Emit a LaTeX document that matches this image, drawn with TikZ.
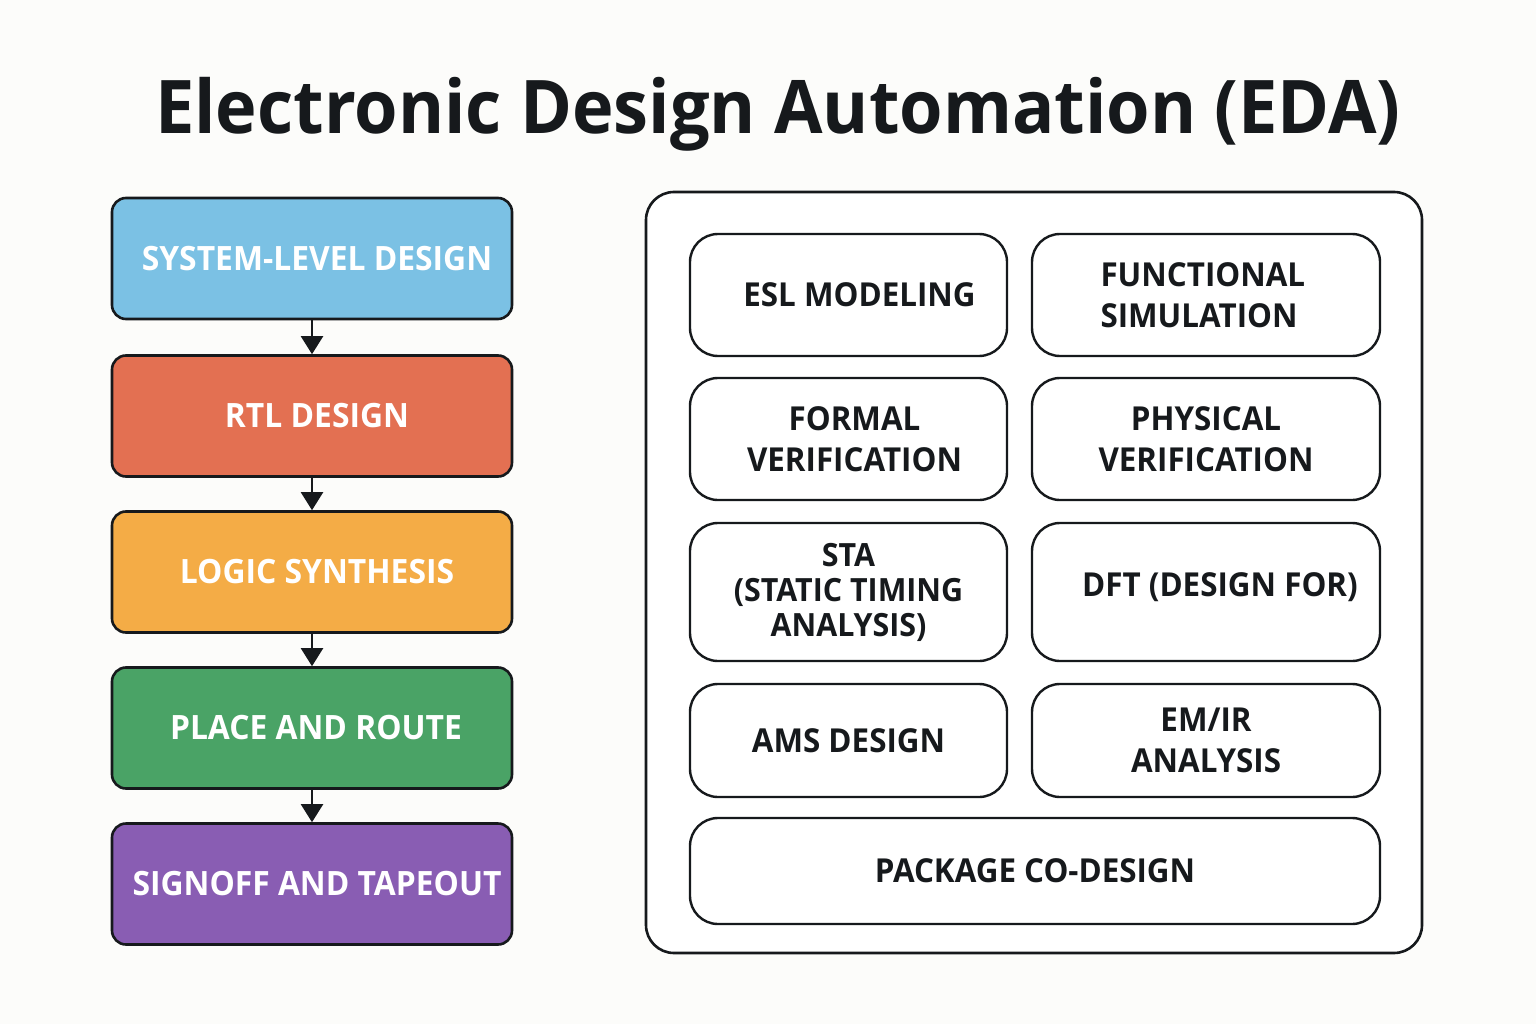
\documentclass[tikz,border=0pt]{standalone}
\usepackage{fontspec}
\setmainfont{Open Sans}[FakeStretch=0.95]
\usetikzlibrary{arrows.meta}

\definecolor{pagebg}{HTML}{FCFCFA}
\definecolor{inkblack}{HTML}{16191C}
\definecolor{sysblue}{HTML}{7BC1E4}
\definecolor{rtlred}{HTML}{E37052}
\definecolor{logicorange}{HTML}{F4AC46}
\definecolor{prgreen}{HTML}{4AA366}
\definecolor{signpurple}{HTML}{895DB3}

\begin{document}
\begin{tikzpicture}%
	[x=1pt, y=-1pt,
	flowbox/.style={draw=inkblack, line width=2.6pt, rounded corners=14pt,
		minimum width=400pt, minimum height=121pt, inner sep=0pt,
		text=white, font=\fontsize{33.5}{40}\selectfont\bfseries},
	toolbox/.style={draw=inkblack, line width=2.4pt, rounded corners=28pt,
		fill=white, inner sep=0pt, align=center, text=inkblack,
		font=\fontsize{33}{41}\selectfont\bfseries},
	frame/.style={draw=inkblack, line width=2.6pt, rounded corners=28pt,
		fill=white, minimum width=776pt, minimum height=761pt},
	flowarrow/.style={-{Triangle[width=22pt,length=18pt]}, line width=2.2pt, color=inkblack}]
%
\fill[pagebg] (0,0) rectangle (1536,1024);
%%
%% Title
%%
\node[text=inkblack, font=\fontsize{74}{80}\selectfont\bfseries] (title) at (778,114) {Electronic Design Automation (EDA)};
%%
%% Design flow on the left
%%
\node[flowbox, fill=sysblue] (system) at (312,258.5) {\hspace*{10pt}SYSTEM-LEVEL DESIGN};
\node[flowbox, fill=rtlred] (rtl) at (312,416) {\hspace*{10pt}RTL DESIGN};
\node[flowbox, fill=logicorange] (logic) at (312,572) {\hspace*{10pt}LOGIC SYNTHESIS};
\node[flowbox, fill=prgreen] (pnr) at (312,728) {\hspace*{8pt}PLACE AND ROUTE};
\node[flowbox, fill=signpurple] (signoff) at (312,884) {\hspace*{10pt}SIGNOFF AND TAPEOUT};

\draw[flowarrow] (system) -- (rtl);
\draw[flowarrow] (rtl) -- (logic);
\draw[flowarrow] (logic) -- (pnr);
\draw[flowarrow] (pnr) -- (signoff);
%%
%% Tool panel on the right
%%
\node[frame] (panel) at (1034,572.5) {};

\node[toolbox, minimum width=317pt, minimum height=122pt] (esl) at (848.5,295) {\hspace*{22pt}ESL MODELING};
\node[toolbox, minimum width=348pt, minimum height=122pt, align=left] (funcsim) at (1206,295) {FUNCTIONAL\\SIMULATION\hspace*{14pt}};
\node[toolbox, minimum width=317pt, minimum height=122pt] (formal) at (848.5,439) {\hspace*{12pt}FORMAL\\\hspace*{12pt}VERIFICATION};
\node[toolbox, minimum width=348pt, minimum height=122pt] (physver) at (1206,439) {PHYSICAL\\VERIFICATION};
\node[toolbox, minimum width=317pt, minimum height=138pt, font=\fontsize{32}{35}\selectfont\bfseries] (sta) at (848.5,592) {STA\\(STATIC TIMING\\ANALYSIS)};
\node[toolbox, minimum width=348pt, minimum height=138pt] (dft) at (1206,592) {\hspace*{28pt}DFT (DESIGN FOR)\raisebox{0pt}[0pt][14pt]{}};
\node[toolbox, minimum width=317pt, minimum height=113pt] (ams) at (848.5,740.5) {AMS DESIGN};
\node[toolbox, minimum width=348pt, minimum height=113pt] (emir) at (1206,740.5) {EM/IR\\ANALYSIS};
\node[toolbox, minimum width=690pt, minimum height=106pt] (package) at (1035,871) {PACKAGE CO-DESIGN};

\end{tikzpicture}
\end{document}
